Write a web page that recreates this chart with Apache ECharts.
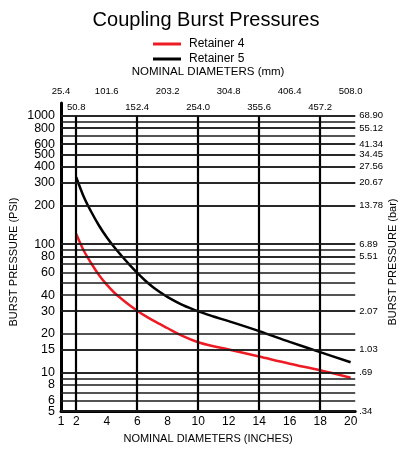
<!DOCTYPE html>
<html><head><meta charset="utf-8">
<script src="https://cdn.jsdelivr.net/npm/echarts@6/dist/echarts.min.js"></script>
<style>html,body{margin:0;padding:0;background:#fff}#c{width:412px;height:449px}</style>
</head><body><div id="c"></div>
<script>
// ---- data ----
const inches = [2,2.5,3,3.5,4,4.5,5,5.5,6,6.5,7,7.5,8,9,10,11,12,14,16,18,20];
const retainer4 = [120,88.7,70.3,57.2,48.3,41.8,37.2,33.4,30.3,27.7,25.6,23.8,22.1,19.2,17.2,16.0,15.1,13.3,11.7,10.4,9.1];
const retainer5 = [332,233,177,139,113,94.4,80.4,69,59.8,52.3,46.6,42.2,38.6,33.4,29.9,27.3,25.1,21,17.3,14.4,12.0];
const inchTicks = [1,2,4,6,8,10,12,14,16,18,20];
const mmRow1Inch = [1,4,8,12,16,20];
const mmRow1Text = ['25.4','101.6','203.2','304.8','406.4','508.0'];
const mmRow2Inch = [2,6,10,14,18];
const mmRow2Text = ['50.8','152.4','254.0','355.6','457.2'];
const verticalLines = [2,6,10,14,18];
const psiGrid = [5,6,7,8,9,10,15,20,30,40,50,60,70,80,90,100,200,300,400,500,600,700,800,900,1000];
const psiLabels = [5,6,8,10,15,20,30,40,60,80,100,200,300,400,500,600,800,1000];
const barTickPsi = [1000,800,600,500,400,300,200,100,80,30,15,10,5];
const barTickText = ['68.90','55.12','41.34','34.45','27.56','20.67','13.78','6.89','5.51','2.07','1.03','.69','.34'];

// ---- config ----
const X_MIN = 1, X_MAX = 20.3, Y_MIN = 5, Y_MAX = 1257;
const FONT = 'Liberation Sans';
const chart = echarts.init(document.getElementById('c'), null, {renderer:'canvas'});

const xBase = {type:'value', min:X_MIN, max:X_MAX, interval:1, splitLine:{show:false}, axisTick:{show:false}};
const mmFmt = (ins, txt) => v => { const i = ins.indexOf(v); return i >= 0 ? txt[i] : ''; };
const gridLine = {color:'#1a1a1a', width:1.6, type:'solid'};

const option = {
  animation:false,
  backgroundColor:'#fff',
  title:{text:'Coupling Burst Pressures', left:'center', top:5,
    textStyle:{fontFamily:FONT, fontSize:20, fontWeight:'normal', color:'#000'}},
  legend:{data:['Retainer 4','Retainer 5'], orient:'vertical', left:148, top:32, itemGap:1,
    icon:'rect', itemWidth:28, itemHeight:3,
    textStyle:{fontFamily:FONT, fontSize:12, color:'#000', padding:[0,0,0,3], lineHeight:14}},
  grid:{left:59.7, right:56.8, top:103, bottom:37.3, containLabel:false},
  xAxis:[
    Object.assign({}, xBase, {position:'bottom',
      name:'NOMINAL DIAMETERS (INCHES)', nameLocation:'middle', nameGap:21,
      nameTextStyle:{fontFamily:FONT, fontSize:11, color:'#000'},
      axisLine:{lineStyle:{color:'#000', width:3}},
      axisLabel:{fontFamily:FONT, fontSize:12, color:'#000', margin:5, showMaxLabel:false,
        formatter: v => inchTicks.includes(v) ? String(v) : ''}}),
    Object.assign({}, xBase, {position:'top',
      name:'NOMINAL DIAMETERS (mm)', nameLocation:'middle', nameGap:25,
      nameTextStyle:{fontFamily:FONT, fontSize:11.5, color:'#000'},
      axisLine:{show:false},
      axisLabel:{fontFamily:FONT, fontSize:9.5, color:'#000', margin:7, showMaxLabel:false,
        formatter: mmFmt(mmRow1Inch, mmRow1Text)}}),
    Object.assign({}, xBase, {position:'top', offset:-12.7,
      axisLine:{show:false},
      axisLabel:{fontFamily:FONT, fontSize:9.5, color:'#000', margin:3, showMaxLabel:false,
        formatter: mmFmt(mmRow2Inch, mmRow2Text)}})
  ],
  yAxis:[
    {type:'log', logBase:10, min:Y_MIN, max:Y_MAX, position:'left',
      name:'BURST PRESSURE (PSI)', nameLocation:'middle', nameGap:42, nameRotate:90,
      nameTextStyle:{fontFamily:FONT, fontSize:11, color:'#000', padding:[0,10,0,0]},
      axisLine:{show:true, lineStyle:{color:'#000', width:3}},
      axisTick:{show:false}, axisLabel:{show:false}, splitLine:{show:false}},
    {type:'log', logBase:10, min:Y_MIN, max:Y_MAX, position:'right',
      name:'BURST PRESSURE (bar)', nameLocation:'middle', nameGap:32, nameRotate:90,
      nameTextStyle:{fontFamily:FONT, fontSize:11, color:'#000', padding:[0,10,0,0]},
      axisLine:{show:false}, axisTick:{show:false}, axisLabel:{show:false}, splitLine:{show:false}}
  ],
  series:[
    {type:'line', name:'grid', data:[], z:1, silent:true,
      markLine:{silent:true, symbol:['none','none'], animation:false,
        lineStyle:gridLine,
        label:{show:true, position:'start', distance:6, fontFamily:FONT, fontSize:12.5, color:'#000'},
        data: psiGrid.map(v => ({yAxis:v, label:{formatter: psiLabels.includes(v) ? String(v) : ''}}))
          .concat(verticalLines.map(x => [
            {coord:[x, Y_MIN], lineStyle:{color:'#000', width:2.2}, label:{show:false}},
            {coord:[x, psiGrid[psiGrid.length-1]]}]))}},
    {type:'line', name:'barLabels', data:[], z:1, silent:true,
      markLine:{silent:true, symbol:['none','none'], animation:false,
        lineStyle:gridLine,
        label:{show:true, position:'end', distance:4, fontFamily:FONT, fontSize:9.5, color:'#000'},
        data: barTickPsi.map((v,i) => ({yAxis:v, label:{formatter: barTickText[i]}}))}},
    {type:'line', name:'Retainer 4', data: inches.map((x,i)=>[x, retainer4[i]]), z:3,
      smooth:0.35, showSymbol:false, lineStyle:{color:'#ed1c24', width:2.5}, itemStyle:{color:'#ed1c24'}},
    {type:'line', name:'Retainer 5', data: inches.map((x,i)=>[x, retainer5[i]]), z:3,
      smooth:0.35, showSymbol:false, lineStyle:{color:'#000', width:2.5}, itemStyle:{color:'#000'}}
  ]
};
chart.setOption(option);
</script></body></html>
